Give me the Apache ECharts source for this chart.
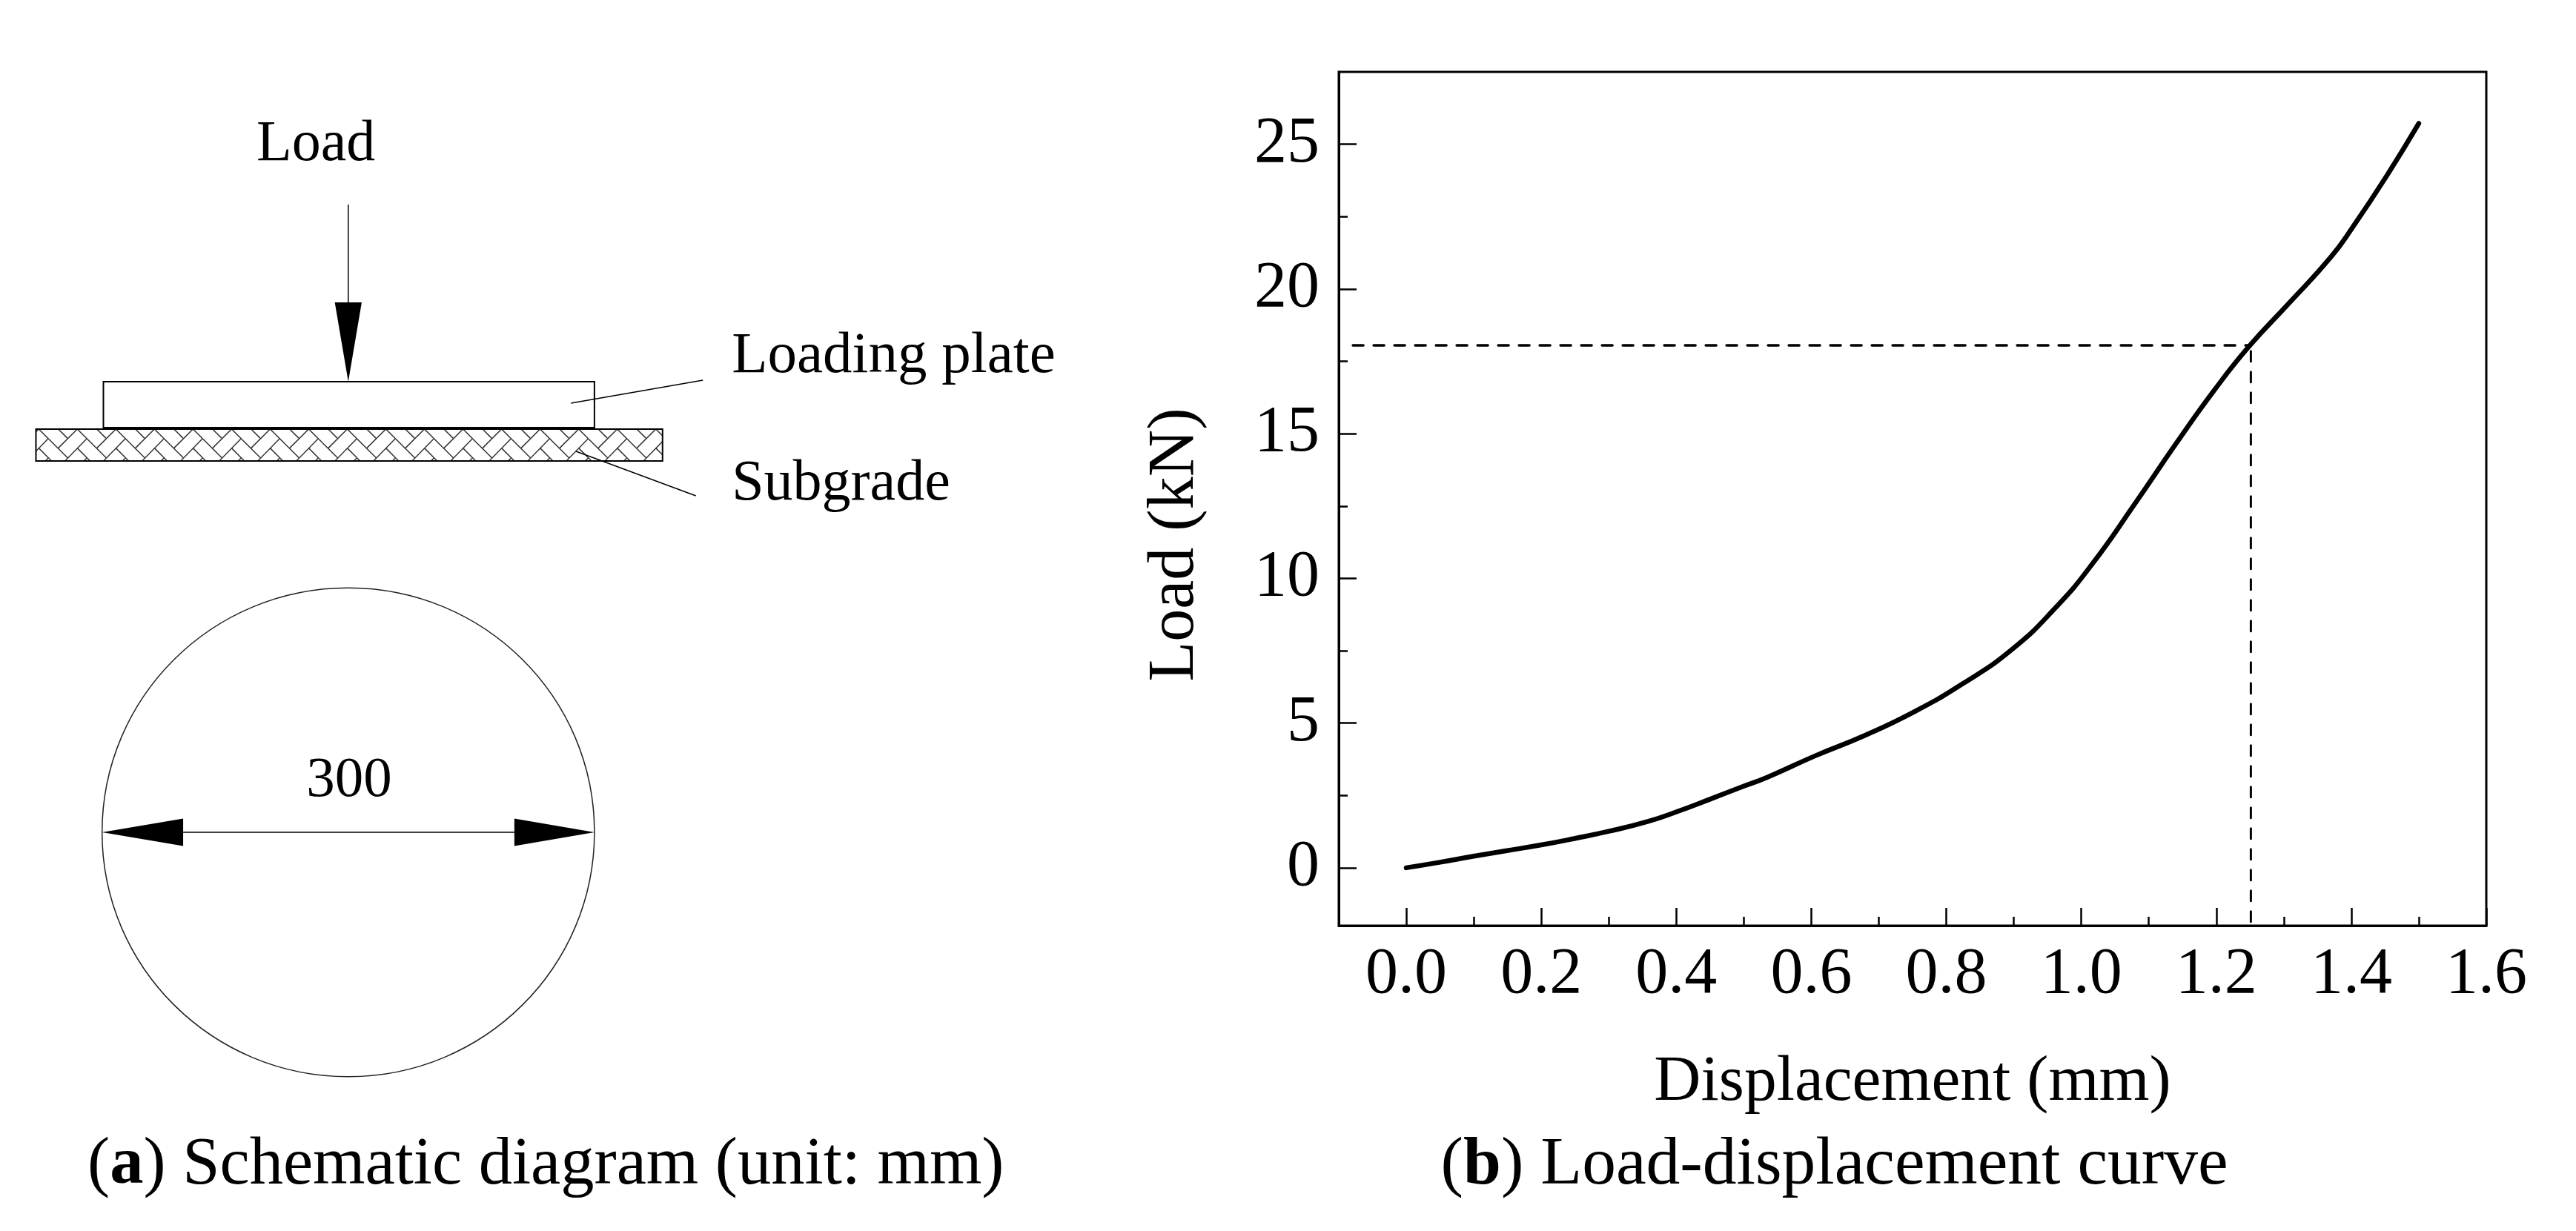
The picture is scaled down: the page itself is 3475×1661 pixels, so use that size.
<!DOCTYPE html>
<html>
<head>
<meta charset="utf-8">
<style>html,body{margin:0;padding:0;background:#fff}#main{width:3475px;height:1661px}</style>
<script src="https://cdn.jsdelivr.net/npm/echarts@6/dist/echarts.min.js"></script>
</head>
<body>
<div id="main"></div>
<script>
// load-displacement curve
var displacement = [0, 0.047, 0.1, 0.146, 0.2, 0.249, 0.3, 0.358, 0.4, 0.45, 0.5, 0.535, 0.607, 0.677, 0.75, 0.823, 0.897, 0.962, 1.017, 1.08, 1.142, 1.197, 1.248, 1.307, 1.369, 1.402, 1.453, 1.5];
var load = [0, 0.18, 0.4, 0.58, 0.79, 1.01, 1.26, 1.6, 1.93, 2.37, 2.82, 3.13, 3.88, 4.55, 5.36, 6.34, 7.54, 8.99, 10.52, 12.6, 14.71, 16.5, 18.0, 19.49, 21.08, 22.13, 23.93, 25.72];
var dashH = [[-0.079, 18.05], [1.2512, 18.05]];
var dashV = [[1.2512, 17.85], [1.2512, -2]];

var xMajor = [0, 0.2, 0.4, 0.6, 0.8, 1.0, 1.2, 1.4, 1.6];
var xMinor = [0.1, 0.3, 0.5, 0.7, 0.9, 1.1, 1.3, 1.5];
var yMajor = [0, 5, 10, 15, 20, 25];
var yMinor = [2.5, 7.5, 12.5, 17.5, 22.5];

// schematic, in mm, origin at the centre of the 300 mm circle
var plate = [-149.2, 246.7, 150, 274.7];
var subgrade = [-190.3, 226.4, 191.5, 245.8];
var circle = [150, 149];
var thinLines = [
    [0, 382.7, 0, 323],
    [-100.6, 0, 101.2, 0],
    [135.7, 261.6, 216.1, 275.6],
    [138.8, 232.2, 211.8, 205.1]
];
var arrowHeads = [
    [[-8.2, 323], [8.2, 323], [0, 274.7]],
    [[-150, 0], [-100.6, 8.4], [-100.6, -8.4]],
    [[150, 0], [101.2, 8.4], [101.2, -8.4]]
];
// one period of the herringbone, relative to the top left of the subgrade
var hatchPeriod = 23.5;
var hatchSegments = [
    [1.7, 0, 19.4, -17.6],
    [-5.8, -19.4, 7.3, -6],
    [13.6, -11.6, 25.2, 0],
    [13.6, 0, 19.1, -5.5],
    [1.7, -11.6, 9.5, -19.4],
    [5.7, -19.4, 7.5, -17.6]
];
var labels = [
    ['Load', -55.9, 418.9, 78],
    ['Loading plate', 233.7, 290.1, 79],
    ['Subgrade', 233.7, 211.9, 78],
    ['300', -25.5, 31.2, 77],
    ['({b|a}) Schematic diagram (unit: mm)', -158.9, -203.3, 90.5],
    ['({b|b}) Load-displacement curve', 665.7, -203.3, 91.5]
];

var serif = '"Liberation Serif", "Times New Roman", serif';

function pairs(xs, ys) {
    return xs.map(function (x, i) { return [x, ys[i]]; });
}

function renderSchematic(params, api) {
    function pt(x, y) { return api.coord([x, y]); }
    function segment(s, width, color) {
        var a = pt(s[0], s[1]), b = pt(s[2], s[3]);
        return {type: 'line', shape: {x1: a[0], y1: a[1], x2: b[0], y2: b[1]}, style: {stroke: color, lineWidth: width, fill: null}};
    }
    function box(r) {
        var a = pt(r[0], r[3]), b = pt(r[2], r[1]);
        return {x: a[0], y: a[1], width: b[0] - a[0], height: b[1] - a[1]};
    }
    var children = [];
    var hatch = [];
    for (var n = -1; n < 18; n++) {
        hatchSegments.forEach(function (s) {
            var ox = subgrade[0] + n * hatchPeriod, oy = subgrade[3];
            hatch.push(segment([ox + s[0], oy + s[1], ox + s[2], oy + s[3]], 1.5, '#333'));
        });
    }
    children.push({type: 'group', clipPath: {type: 'rect', shape: box(subgrade)}, children: hatch});
    children.push({type: 'rect', shape: box(subgrade), style: {stroke: '#000', lineWidth: 2, fill: null}});
    children.push({type: 'rect', shape: box(plate), style: {stroke: '#000', lineWidth: 2, fill: null}});
    var c = pt(0, 0), e = pt(circle[0], circle[1]);
    children.push({type: 'ellipse', shape: {cx: c[0], cy: c[1], rx: e[0] - c[0], ry: c[1] - e[1]}, style: {stroke: '#222', lineWidth: 1.5, fill: null}});
    thinLines.forEach(function (s) { children.push(segment(s, 1.5, '#000')); });
    arrowHeads.forEach(function (h) {
        children.push({type: 'polygon', shape: {points: h.map(function (p) { return pt(p[0], p[1]); })}, style: {fill: '#000'}});
    });
    labels.forEach(function (l) {
        var p = pt(l[1], l[2]);
        children.push({type: 'text', style: {
            x: p[0], y: p[1], text: l[0], fill: '#000',
            fontFamily: serif, fontSize: l[3],
            textAlign: 'left', textVerticalAlign: 'middle',
            rich: {b: {fontFamily: serif, fontSize: l[3], fontWeight: 'bold', fill: '#000'}}
        }});
    });
    return {type: 'group', children: children};
}

var chart = echarts.init(document.getElementById('main'));
chart.setOption({
    animation: false,
    backgroundColor: '#fff',
    grid: [
        {left: 1806, top: 97, width: 1548, height: 1152, show: true, borderColor: '#000', borderWidth: 3, backgroundColor: 'transparent'},
        {left: 0, top: 0, width: 3475, height: 1661}
    ],
    xAxis: [
        {
            type: 'value', gridIndex: 0, min: -0.1, max: 1.6,
            name: 'Displacement (mm)', nameLocation: 'middle', nameGap: 168,
            nameTextStyle: {fontFamily: serif, fontSize: 87.5, color: '#000'},
            splitLine: {show: false},
            axisLine: {onZero: false, lineStyle: {color: '#000', width: 3}},
            axisTick: {inside: true, length: 24, lineStyle: {color: '#000', width: 2.5}, customValues: xMajor},
            axisLabel: {customValues: xMajor, margin: 23, fontFamily: serif, fontSize: 88, color: '#000', formatter: function (v) { return v.toFixed(1); }}
        },
        {
            type: 'value', gridIndex: 0, min: -0.1, max: 1.6, position: 'bottom',
            splitLine: {show: false}, axisLine: {show: false, onZero: false}, axisLabel: {show: false},
            axisTick: {inside: true, length: 12, lineStyle: {color: '#000', width: 2.5}, customValues: xMinor}
        },
        {type: 'value', gridIndex: 1, min: -212.2, max: 1357.4, show: false}
    ],
    yAxis: [
        {
            type: 'value', gridIndex: 0, min: -2, max: 27.5,
            name: 'Load (kN)', nameLocation: 'middle', nameGap: 176, nameRotate: 90,
            nameTextStyle: {fontFamily: serif, fontSize: 88, color: '#000', padding: [0, 124, 0, 0]},
            splitLine: {show: false},
            axisLine: {onZero: false, lineStyle: {color: '#000', width: 3}},
            axisTick: {inside: true, length: 24, lineStyle: {color: '#000', width: 2.5}, customValues: yMajor},
            axisLabel: {customValues: yMajor, margin: 26, fontFamily: serif, fontSize: 88, color: '#000'}
        },
        {
            type: 'value', gridIndex: 0, min: -2, max: 27.5, position: 'left',
            splitLine: {show: false}, axisLine: {show: false, onZero: false}, axisLabel: {show: false},
            axisTick: {inside: true, length: 12, lineStyle: {color: '#000', width: 2.5}, customValues: yMinor}
        },
        {type: 'value', gridIndex: 1, min: -243.1, max: 507.4, show: false}
    ],
    series: [
        {
            type: 'line', xAxisIndex: 0, yAxisIndex: 0, data: dashH, symbol: 'none', silent: true,
            lineStyle: {color: '#000', width: 3.5, type: [14, 14], cap: 'round'}
        },
        {
            type: 'line', xAxisIndex: 0, yAxisIndex: 0, data: dashV, symbol: 'none', silent: true,
            lineStyle: {color: '#000', width: 3, type: [14, 14], cap: 'round'}
        },
        {
            type: 'line', xAxisIndex: 0, yAxisIndex: 0, data: pairs(displacement, load), symbol: 'none', smooth: 0.5, silent: true,
            lineStyle: {color: '#000', width: 6.5, cap: 'round', join: 'round'}, z: 5
        },
        {
            type: 'custom', xAxisIndex: 2, yAxisIndex: 2, data: [[0, 0]], renderItem: renderSchematic, clip: false, silent: true
        }
    ]
});
</script>
</body>
</html>
